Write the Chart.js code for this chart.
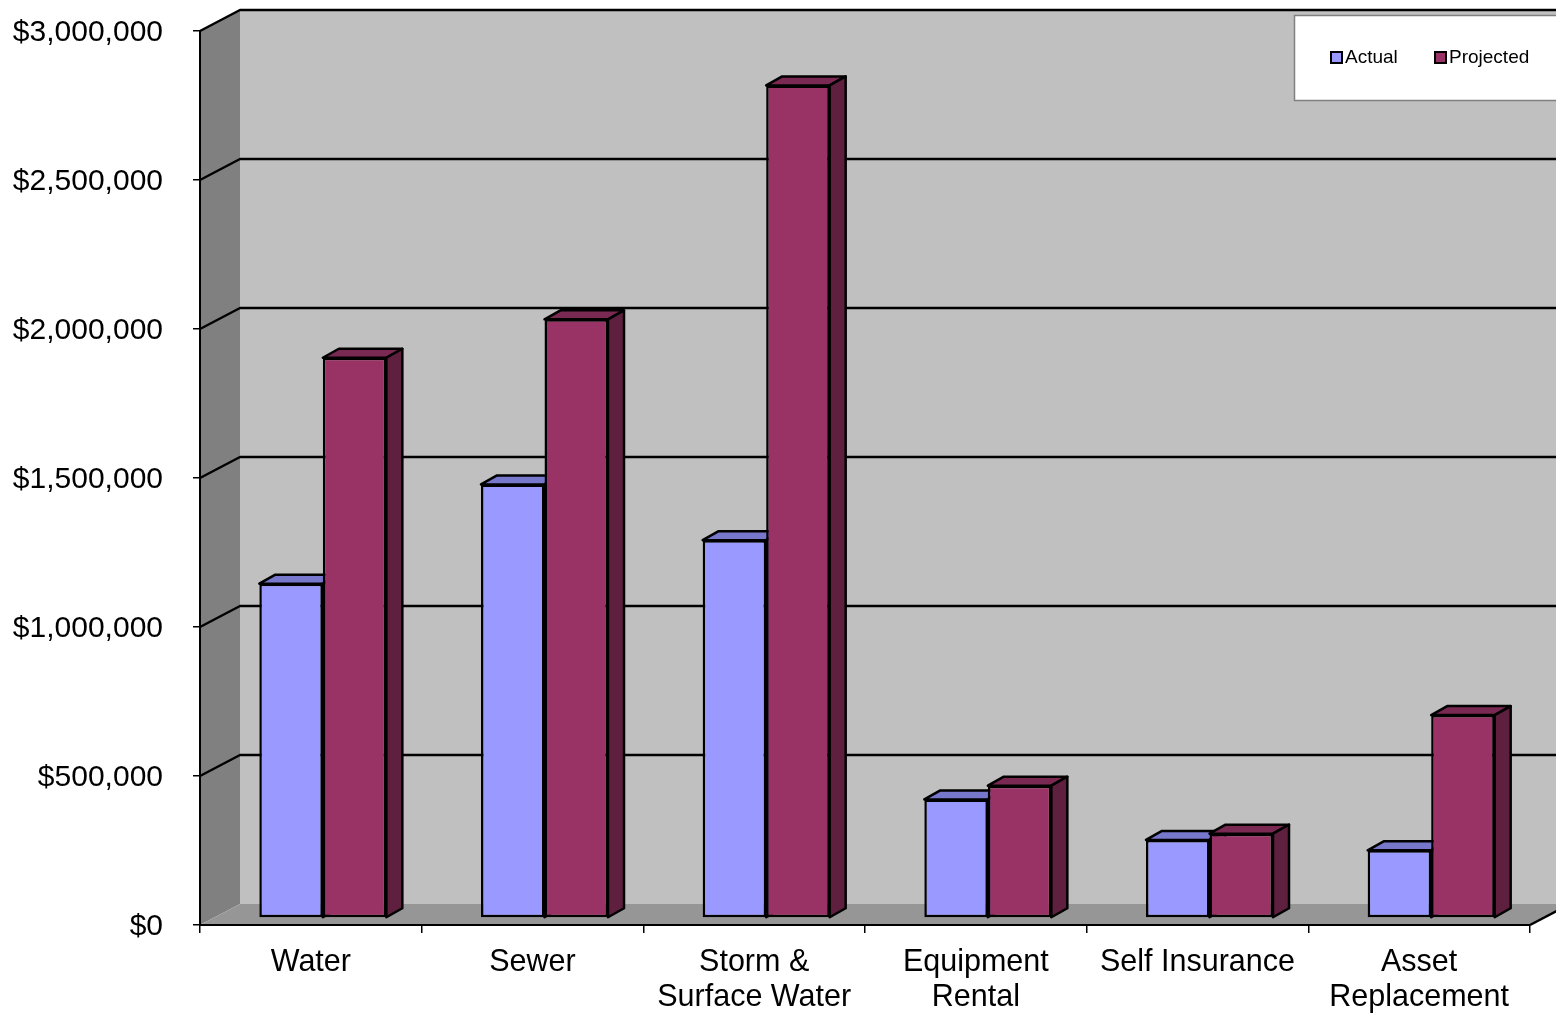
<!DOCTYPE html>
<html>
<head>
<meta charset="utf-8">
<title>Actual vs Projected</title>
<script src="https://cdn.jsdelivr.net/npm/chart.js@4.4.1/dist/chart.umd.min.js"></script>
<style>
  html, body { margin: 0; padding: 0; background: #ffffff; }
  #wrap { width: 1556px; height: 1015px; position: relative; }
</style>
</head>
<body>
<div id="wrap"><canvas id="chart" width="1556" height="1015"></canvas></div>
<script>
// ---- data ----
const categories = ['Water', 'Sewer', ['Storm &', 'Surface Water'], ['Equipment', 'Rental'], 'Self Insurance', ['Asset', 'Replacement']];
const seriesNames = ['Actual', 'Projected'];
const actualValues = [1122000, 1455000, 1268000, 398000, 262000, 227000];
const projectedValues = [1880000, 2009000, 2794000, 444000, 283000, 681000];
const yMin = 0;
const yMax = 3000000;
const yStep = 500000;

// ---- styling ----
const FONT = "'Liberation Sans', Arial, Helvetica, sans-serif";
const frontColors = ['#9999FF', '#993366'];
const topColors = ['#7777CC', '#7A2952'];
const sideColors = ['#5C5C99', '#5F1F3F'];

// oblique projection offsets
const WALL_DX = 40, WALL_DY = -21;   // back wall relative to the front plane
const BAR_DX = 12, BAR_DY = -7;      // front face of the bars
const DEPTH_DX = 16, DEPTH_DY = -9;  // bar depth

// plot area on the front plane
const AREA = { left: 200, top: 31, right: 1530, bottom: 925 };

function poly(ctx, pts, fill) {
  ctx.beginPath();
  ctx.moveTo(pts[0][0], pts[0][1]);
  for (let i = 1; i < pts.length; i++) ctx.lineTo(pts[i][0], pts[i][1]);
  ctx.closePath();
  ctx.fillStyle = fill;
  ctx.fill();
  ctx.stroke();
}

// walls, floor and gridlines behind the bars
const wallsPlugin = {
  id: 'walls',
  beforeDraw(chart) {
    const { ctx, chartArea: { left, right, top, bottom }, scales: { y } } = chart;
    ctx.save();
    ctx.lineJoin = 'round';
    // back wall
    ctx.fillStyle = '#C0C0C0';
    ctx.fillRect(left + WALL_DX, top + WALL_DY, right - left, bottom - top);
    // left side wall
    ctx.beginPath();
    ctx.moveTo(left, top);
    ctx.lineTo(left + WALL_DX, top + WALL_DY);
    ctx.lineTo(left + WALL_DX, bottom + WALL_DY);
    ctx.lineTo(left, bottom);
    ctx.closePath();
    ctx.fillStyle = '#808080';
    ctx.fill();
    // floor
    ctx.beginPath();
    ctx.moveTo(left, bottom);
    ctx.lineTo(left + WALL_DX, bottom + WALL_DY);
    ctx.lineTo(right + WALL_DX, bottom + WALL_DY);
    ctx.lineTo(right, bottom);
    ctx.closePath();
    ctx.fillStyle = '#969696';
    ctx.fill();
    // gridlines across side wall and back wall
    ctx.strokeStyle = '#000000';
    ctx.lineWidth = 2.5;
    y.ticks.forEach(t => {
      if (t.value === yMin) return;
      const py = y.getPixelForValue(t.value);
      ctx.beginPath();
      ctx.moveTo(left, py);
      ctx.lineTo(left + WALL_DX, py + WALL_DY);
      ctx.lineTo(right + WALL_DX, py + WALL_DY);
      ctx.stroke();
    });
    // right edge of the floor
    ctx.beginPath();
    ctx.moveTo(right, bottom);
    ctx.lineTo(right + WALL_DX, bottom + WALL_DY);
    ctx.stroke();
    ctx.restore();
  }
};

// top and side faces of the bars; the front faces are drawn by Chart.js in the shifted plane
const bars3dPlugin = {
  id: 'bars3d',
  beforeDatasetsDraw(chart) {
    const ctx = chart.ctx;
    ctx.save();
    ctx.translate(BAR_DX, BAR_DY);
    ctx.save();
    ctx.strokeStyle = '#000000';
    ctx.lineWidth = 2.5;
    ctx.lineJoin = 'round';
    const n = chart.data.labels.length;
    for (let i = 0; i < n; i++) {
      chart.data.datasets.forEach((ds, d) => {
        const bar = chart.getDatasetMeta(d).data[i];
        const { x, y, base, width } = bar.getProps(['x', 'y', 'base', 'width'], true);
        const x0 = x - width / 2, x1 = x + width / 2;
        poly(ctx, [[x0, y], [x1, y], [x1 + DEPTH_DX, y + DEPTH_DY], [x0 + DEPTH_DX, y + DEPTH_DY]], topColors[d]);
        poly(ctx, [[x1, y], [x1 + DEPTH_DX, y + DEPTH_DY], [x1 + DEPTH_DX, base + DEPTH_DY], [x1, base]], sideColors[d]);
      });
    }
    ctx.restore();
  },
  afterDatasetsDraw(chart) {
    chart.ctx.restore();
  }
};

// legend box in the upper right corner
const legendBoxPlugin = {
  id: 'legendBox',
  afterDraw(chart) {
    const ctx = chart.ctx;
    const boxX = 1294, boxY = 15, boxW = 280, boxH = 85;
    const entryX = [1331, 1435];
    const rowY = 58;
    ctx.save();
    ctx.fillStyle = '#FFFFFF';
    ctx.fillRect(boxX, boxY, boxW, boxH);
    ctx.strokeStyle = '#808080';
    ctx.lineWidth = 1.5;
    ctx.strokeRect(boxX + 0.5, boxY + 0.5, boxW, boxH);
    ctx.font = '19px ' + FONT;
    ctx.textBaseline = 'middle';
    ctx.textAlign = 'left';
    chart.data.datasets.forEach((ds, d) => {
      const sx = entryX[d];
      ctx.fillStyle = ds.backgroundColor;
      ctx.fillRect(sx, rowY - 6, 11, 11);
      ctx.strokeStyle = '#000000';
      ctx.lineWidth = 2;
      ctx.strokeRect(sx, rowY - 6, 11, 11);
      ctx.fillStyle = '#000000';
      ctx.fillText(ds.label, sx + 14, rowY);
    });
    ctx.restore();
  }
};

// pin the plot area so the front plane sits where the axes expect it
const areaPlugin = {
  id: 'fixedArea',
  afterLayout(chart) {
    const ca = chart.chartArea;
    Object.assign(ca, AREA);
    ca.width = AREA.right - AREA.left;
    ca.height = AREA.bottom - AREA.top;
    const { x, y } = chart.scales;
    y.top = AREA.top; y.bottom = AREA.bottom; y.height = AREA.bottom - AREA.top;
    y.left = 0; y.right = AREA.left; y.width = AREA.left;
    x.left = AREA.left; x.right = AREA.right; x.width = AREA.right - AREA.left;
    x.top = AREA.bottom; x.bottom = chart.height; x.height = chart.height - AREA.bottom;
    y.configure();
    x.configure();
  }
};

Chart.defaults.font.family = FONT;

new Chart(document.getElementById('chart'), {
  type: 'bar',
  data: {
    labels: categories,
    datasets: [
      { label: seriesNames[0], data: actualValues, backgroundColor: frontColors[0] },
      { label: seriesNames[1], data: projectedValues, backgroundColor: frontColors[1] }
    ]
  },
  options: {
    responsive: false,
    animation: false,
    devicePixelRatio: 1,
    layout: { padding: { top: 16, right: 26, left: 0, bottom: 0 } },
    datasets: {
      bar: {
        borderColor: '#000000',
        borderWidth: 2.5,
        borderSkipped: false,
        categoryPercentage: 0.573,
        barPercentage: 1,
        clip: false
      }
    },
    plugins: {
      legend: { display: false },
      tooltip: { enabled: false }
    },
    scales: {
      x: {
        grid: { drawOnChartArea: false, drawTicks: true, tickLength: 8, color: '#000000', lineWidth: 1.5, offset: true },
        border: { display: true, color: '#000000', width: 2 },
        ticks: {
          color: '#000000',
          font: { size: 30.5, lineHeight: 1.15 },
          padding: 12,
          maxRotation: 0,
          autoSkip: false
        },
        afterFit(scale) { scale.height = 90; }
      },
      y: {
        min: yMin,
        max: yMax,
        grid: { drawOnChartArea: false, drawTicks: true, tickLength: 7, color: '#000000', lineWidth: 1.5 },
        border: { display: true, color: '#000000', width: 2 },
        ticks: {
          stepSize: yStep,
          color: '#000000',
          font: { size: 30 },
          padding: 30,
          labelOffset: 2,
          callback: v => '$' + Number(v).toLocaleString('en-US')
        },
        afterFit(scale) { scale.width = 200; }
      }
    }
  },
  plugins: [areaPlugin, wallsPlugin, bars3dPlugin, legendBoxPlugin]
});
</script>
</body>
</html>
